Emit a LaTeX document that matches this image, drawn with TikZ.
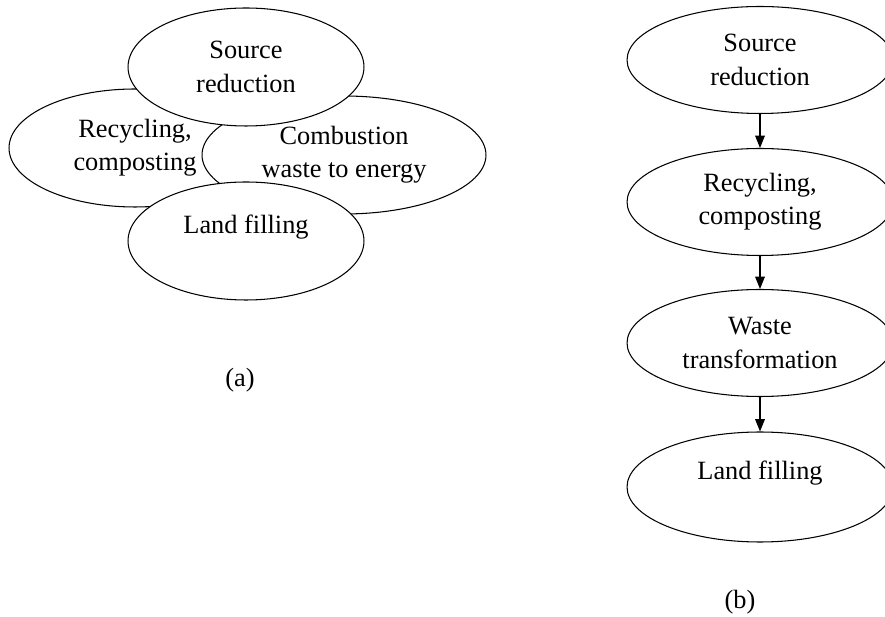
\documentclass[tikz,border=0pt]{standalone}
\usepackage{fontspec}
\setmainfont{Liberation Serif}
\usetikzlibrary{positioning, shapes.geometric, arrows.meta}

\begin{document}
\begin{tikzpicture}[
    x=0.02cm, y=-0.02cm,
    font=\fontsize{15}{19}\selectfont,
    stage_ellipse/.style={ellipse, draw=black, line width=0.6pt, fill=white, inner sep=0pt, align=center, minimum width=4.72cm, minimum height=2.36cm},
    chain_ellipse/.style={stage_ellipse, minimum width=5.32cm, minimum height=2.14cm},
    flow_arrow/.style={-{Triangle[length=7pt, width=5.5pt]}, line width=0.6pt},
    caption_text/.style={font=\fontsize{15}{19}\selectfont}
]
\useasboundingbox (0,0) rectangle (885,617);

% (a): overlapping stages, drawn back to front
\node[stage_ellipse, minimum width=5.04cm] (recycle_a) at (135, 148) {Recycling,\\ composting};
\node[stage_ellipse, minimum width=5.68cm] (combust_a) at (344, 155) {Combustion\\ waste to energy};
\node[stage_ellipse] (source_a) at (246, 67) {Source\\ reduction};
\node[stage_ellipse] (land_a) at (246, 241) {Land filling\\ \mbox{}};
\node[caption_text] (cap_a) at (240, 380) {(a)};

% (b): hierarchy of stages
\node[chain_ellipse] (source_b) at (760, 60) {Source\\ reduction};
\node[chain_ellipse] (recycle_b) at (760, 202) {Recycling,\\ composting};
\node[chain_ellipse] (transform_b) at (760, 343) {Waste\\ transformation};
\node[chain_ellipse, minimum height=2.2cm] (land_b) at (760, 487) {Land filling\\ \mbox{}};
\node[caption_text] (cap_b) at (740, 602) {(b)};

% Arrows
\draw[flow_arrow] (source_b.south) -- (recycle_b.north);
\draw[flow_arrow] (recycle_b.south) -- (transform_b.north);
\draw[flow_arrow] (transform_b.south) -- (land_b.north);

\end{tikzpicture}
\end{document}
